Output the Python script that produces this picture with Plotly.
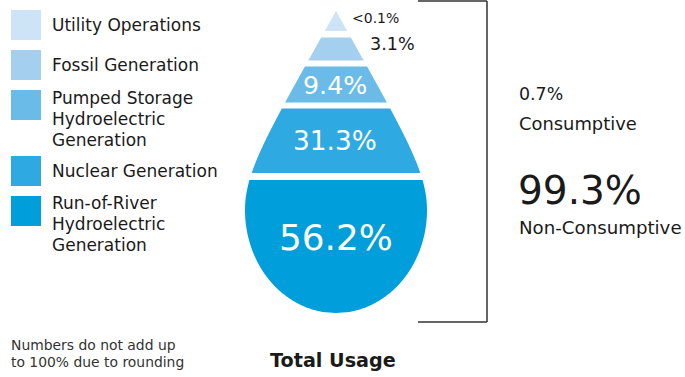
import numpy as np
import plotly.graph_objects as go

# ---- data ----
categories = ["Utility Operations", "Fossil Generation",
              "Pumped Storage\nHydroelectric\nGeneration",
              "Nuclear Generation",
              "Run-of-River\nHydroelectric\nGeneration"]
value_labels = ["<0.1%", "3.1%", "9.4%", "31.3%", "56.2%"]
colors = ["#cde3f6", "#a5cfef", "#6bbbe8", "#2ea9e1", "#009edb"]
consumptive_label = "0.7%"
nonconsumptive_label = "99.3%"

FONT = "DejaVu Sans"
W, H = 685, 377
INK = "#1a1a1a"

# ---- drop geometry (layout, pixel units) ----
cx = 336.0
tip_y, wide_y, bot_y, half_w = 11.0, 210.0, 313.0, 91.0
band_bounds = [(11, 31), (37.5, 60.5), (66.5, 102.5), (108.5, 173), (180, 313)]

t = np.linspace(0, 1, 200)
P = np.array([[0, tip_y], [67, 131], [half_w, 170], [half_w, wide_y]])
bez = ((1 - t)[:, None] ** 3 * P[0] + 3 * ((1 - t) ** 2 * t)[:, None] * P[1]
       + 3 * ((1 - t) * t ** 2)[:, None] * P[2] + (t ** 3)[:, None] * P[3])
th = np.linspace(0, np.pi / 2, 200)[1:]
ell_x = half_w * np.cos(th)
ell_y = wide_y + (bot_y - wide_y) * np.sin(th)
prof_y = np.concatenate([bez[:, 1], ell_y])
prof_x = np.concatenate([bez[:, 0], ell_x])


def halfwidth(y):
    return np.interp(y, prof_y, prof_x)


fig = go.Figure()

for (y0, y1), col, cat in zip(band_bounds, colors, categories):
    ys = np.linspace(y0, y1, 120)
    w = halfwidth(ys)
    xs = np.concatenate([cx - w, (cx + w)[::-1]])
    yy = np.concatenate([ys, ys[::-1]])
    fig.add_trace(go.Scatter(x=xs, y=yy, fill="toself", fillcolor=col,
                             mode="none", hoverinfo="skip", showlegend=False,
                             name=cat.replace("\n", " ")))

# legend squares
leg_y = [25, 65, 105, 171, 211]
fig.add_trace(go.Scatter(x=[26] * 5, y=leg_y, mode="markers",
                         marker=dict(symbol="square", size=30, color=colors,
                                     line=dict(width=0)),
                         hoverinfo="skip", showlegend=False))

ann = []


def add_text(x, y, txt, size, color=INK, xa="left", ya="middle"):
    ann.append(dict(x=x, y=y, text=txt, xanchor=xa, yanchor=ya, align="left",
                    showarrow=False, font=dict(family=FONT, size=size, color=color)))


def tight_lines(lines, glyph_size):
    return "<br>".join("<span style='font-size:%gpx'>%s</span>" % (glyph_size, l)
                       for l in lines)


# legend labels: line pitch ~21px
leg_center_y = [25, 65, 119, 171, 224]
for cat, yc in zip(categories, leg_center_y):
    add_text(50, yc, tight_lines(cat.split("\n"), 17), 16.15)

# value labels
lab_pos = [(350, 18, 14, INK, "left"), (368, 44, 17.6, INK, "left"),
           (335, 85, 25.3, "white", "center"), (335, 140, 26.4, "white", "center"),
           (336, 237, 35.8, "white", "center")]
for txt, (x, y, s, c, xa) in zip(value_labels, lab_pos):
    add_text(x, y, txt, s, c, xa)

# right-side summary
add_text(517, 94, consumptive_label, 17.4)
add_text(517, 123, "Consumptive", 17.9)
add_text(516, 190, nonconsumptive_label, 39)
add_text(517, 227, "Non-Consumptive", 18.2)
add_text(9, 353, tight_lines(["Numbers do not add up", "to 100% due to rounding"], 13.9),
         13.2, "#333333")
add_text(333, 360, "<b>Total Usage</b>", 19.2, INK, "center")

shapes = [
    dict(type="line", x0=418, x1=487, y0=1, y1=1, line=dict(color="#333", width=1.5)),
    dict(type="line", x0=487, x1=487, y0=1, y1=322, line=dict(color="#333", width=1.5)),
    dict(type="line", x0=418, x1=487, y0=322, y1=322, line=dict(color="#333", width=1.5)),
]

fig.update_layout(
    width=W, height=H, margin=dict(l=0, r=0, t=0, b=0),
    paper_bgcolor="white", plot_bgcolor="white",
    xaxis=dict(range=[0, W], visible=False, fixedrange=True),
    yaxis=dict(range=[H, 0], visible=False, fixedrange=True),
    annotations=ann, shapes=shapes, showlegend=False,
)

fig.write_html("out.html")
